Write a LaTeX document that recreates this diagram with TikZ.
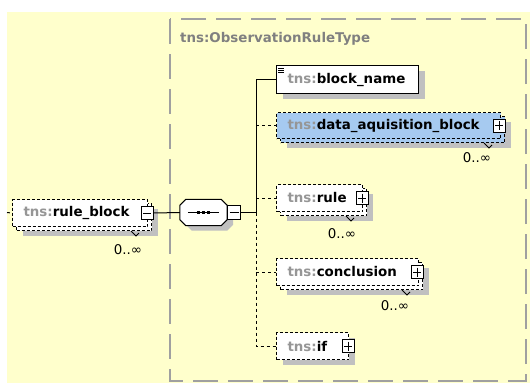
\documentclass[tikz,border=0pt]{standalone}
\usepackage{fontspec}
\setmainfont{DejaVu Sans}
\usetikzlibrary{shapes,shadows,positioning,calc}

\definecolor{bgyellow}{RGB}{255,255,204}
\definecolor{framegray}{RGB}{160,160,160}
\definecolor{shadowgray}{RGB}{192,192,192}
\definecolor{prefixgray}{RGB}{150,150,150}
\definecolor{titlegray}{RGB}{128,128,128}
\definecolor{elemblue}{RGB}{166,202,240}

\newcommand{\tns}[1]{\textcolor{prefixgray}{tns:}#1}
\newcommand{\xsdfont}{\fontsize{13.4}{16}\selectfont}

\tikzset{
    elem/.style={draw, line width=1pt, fill=white, anchor=north west,
        inner xsep=11pt, inner ysep=0pt, minimum height=27pt, align=left,
        font=\xsdfont\bfseries},
    optional/.style={dash pattern=on 3pt off 2pt},
    single/.style={drop shadow={shadow xshift=6pt, shadow yshift=-5pt,
        fill=shadowgray, opacity=1}},
    repeated/.style={drop shadow={shadow xshift=10pt, shadow yshift=-9pt,
        fill=shadowgray, opacity=1},
        copy shadow={shadow xshift=4pt, shadow yshift=-4pt, fill=#1,
        draw=black, line width=1pt, dash pattern=on 3pt off 2pt}},
    repeated/.default=white,
    sqbox/.style={draw, fill=white, line width=1pt, inner sep=0pt,
        minimum width=12pt, minimum height=13pt},
    minusbox/.style={sqbox, path picture={
        \draw[line width=1pt] ([xshift=2pt]path picture bounding box.west)
            -- ([xshift=-2pt]path picture bounding box.east);}},
    plusbox/.style={sqbox, path picture={
        \draw[line width=1pt] ([xshift=2pt]path picture bounding box.west)
            -- ([xshift=-2pt]path picture bounding box.east);
        \draw[line width=1pt] ([yshift=-2pt]path picture bounding box.north)
            -- ([yshift=2pt]path picture bounding box.south);}},
    conn/.style={line width=1pt},
    optconn/.style={conn, dash pattern=on 3pt off 3pt},
    mult/.style={font=\xsdfont, inner sep=0pt},
    notch/.style={line width=0.8pt}
}

\begin{document}
\begin{tikzpicture}[x=1pt, y=-1pt]
    \useasboundingbox (0,0) rectangle (530,383);
    % Background and complex type frame
    \fill[bgyellow] (7,12) rectangle (530,383);
    \draw[framegray, line width=1.3pt, dash pattern=on 25pt off 10pt]
        (170,19) rectangle (526,381);
    \node[anchor=west, text=titlegray, font=\xsdfont\bfseries, inner sep=0pt]
        (typename) at (180,39) {tns:ObservationRuleType};

    % Root element
    \node[elem, optional, repeated, text width=113pt] (ruleblock) at (12,199) {\tns{rule\_block}};
    \node[minusbox] (rbminus) at ([xshift=-1pt]ruleblock.east) {};
    \draw[notch] ([shift={(-17,4)}]ruleblock.south east) -- ++(5,5) -- ++(3,-3);
    \node[mult] (rbmult) at ([shift={(-20,23)}]ruleblock.south east) {0..∞};
    \coordinate (entry) at (7,212.5);
    \draw[optconn] (entry) -- (ruleblock.west);

    % Sequence
    \node[minimum width=47pt, minimum height=26pt, inner sep=0pt] (seq) at (203.5,212.5) {};
    \filldraw[conn, fill=white, single] ([xshift=6pt]seq.north west) -- ([xshift=-6pt]seq.north east)
        -- ([yshift=-6pt]seq.north east) -- ([yshift=6pt]seq.south east)
        -- ([xshift=-6pt]seq.south east) -- ([xshift=6pt]seq.south west)
        -- ([yshift=6pt]seq.south west) -- ([yshift=-6pt]seq.north west) -- cycle;
    \draw[conn] ([xshift=8pt]seq.west) -- ([xshift=-8pt]seq.east);
    \fill ([xshift=-5pt]seq.center) +(-1.5,-1.5) rectangle +(1.5,1.5);
    \fill (seq.center) +(-1.5,-1.5) rectangle +(1.5,1.5);
    \fill ([xshift=5pt]seq.center) +(-1.5,-1.5) rectangle +(1.5,1.5);
    \node[minusbox, minimum width=13pt, minimum height=14pt] (seqminus) at ([xshift=7pt]seq.east) {};
    \draw[conn] (rbminus.east) -- (seq.west);
    \coordinate (junction) at (256,212.5);
    \draw[conn] (seqminus.east) -- (junction);

    % block_name
    \node[elem, single, text width=120pt, minimum height=28pt] (blockname) at (276,65) {\tns{block\_name}};
    \draw[line width=0.8pt] ([shift={(2,3)}]blockname.north west) -- ++(6,0)
        ([shift={(2,5)}]blockname.north west) -- ++(6,0)
        ([shift={(2,7)}]blockname.north west) -- ++(6,0);
    \draw[conn] (junction) |- (blockname.west);

    % data_aquisition_block
    \node[elem, optional, repeated=elemblue, fill=elemblue, text width=202pt, minimum height=26pt] (dataq) at (276,112) {\tns{data\_aquisition\_block}};
    \node[plusbox] (dqplus) at ([xshift=-2pt]dataq.east) {};
    \draw[notch] ([shift={(-17,4)}]dataq.south east) -- ++(5,5) -- ++(3,-3);
    \node[mult] (dqmult) at ([shift={(-24,19)}]dataq.south east) {0..∞};
    \draw[optconn] (junction |- dataq.west) -- (dataq.west);

    % rule
    \node[elem, optional, repeated, text width=64pt] (rule) at (276,184) {\tns{rule}};
    \node[plusbox] (ruleplus) at ([xshift=-1pt]rule.east) {};
    \draw[notch] ([shift={(-17,4)}]rule.south east) -- ++(5,5) -- ++(3,-3);
    \node[mult] (rulemult) at ([shift={(-21,22)}]rule.south east) {0..∞};
    \draw[optconn] (junction |- rule.west) -- (rule.west);

    % conclusion
    \node[elem, optional, repeated, text width=120pt] (conclusion) at (276,258) {\tns{conclusion}};
    \node[plusbox] (concplus) at ([xshift=-2pt]conclusion.east) {};
    \draw[notch] ([shift={(-17,4)}]conclusion.south east) -- ++(5,5) -- ++(3,-3);
    \node[mult] (concmult) at ([shift={(-24,20)}]conclusion.south east) {0..∞};
    \draw[optconn] (junction |- conclusion.west) -- (conclusion.west);

    % if
    \node[elem, optional, single, text width=50pt] (ifelem) at (276,332) {\tns{if}};
    \node[plusbox] (ifplus) at ([xshift=-1pt]ifelem.east) {};
    \draw[optconn] (junction) |- (ifelem.west);
\end{tikzpicture}
\end{document}
